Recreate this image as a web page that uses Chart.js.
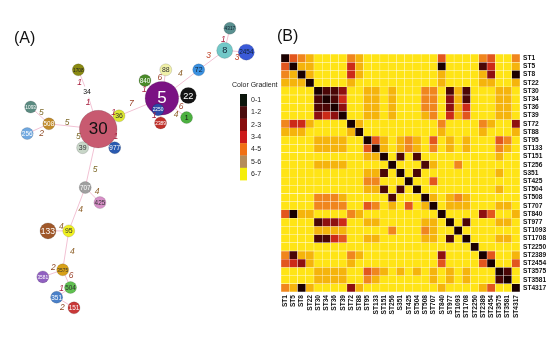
<!DOCTYPE html>
<html>
<head>
<meta charset="utf-8">
<script src="https://cdn.jsdelivr.net/npm/chart.js@4.4.1/dist/chart.umd.min.js"></script>
<style>
  html, body { margin: 0; padding: 0; background: #fff; width: 550px; height: 337px; overflow: hidden; font-family: "Liberation Sans", Arial, sans-serif; }
  #wrapA { position: absolute; left: 0; top: 0; width: 290px; height: 337px; }
  #wrapB { position: absolute; left: 270px; top: 0; width: 280px; height: 337px; }
  .tag { position: absolute; font-size: 16px; color: #111; line-height: 18px; }
</style>
</head>
<body>
<div id="wrapA"><canvas id="net"></canvas></div>
<div id="wrapB"><canvas id="heat"></canvas></div>
<div class="tag" style="left:14px;top:29px">(A)</div>
<div class="tag" style="left:277px;top:27px">(B)</div>
<script>
// ---- panel A : minimum spanning tree ----
const nodeNames = ['30', '5', '2250', '22', '1', '2389', '840', '88', '72', '8', '4317', '2454', '1708', '34', '36',
  '1093', '508', '256', '39', '977', '707', '425', '133', '95', '3575', '3581', '504', '351', '151']
// layout position of every node (reference layout units)
const nodeX = [91, 164.5, 160, 195, 193, 163, 145, 169, 207, 237, 243, 262, 68, 78, 115,
  13, 34, 9, 73, 110, 76, 93, 33, 57, 50, 27, 59, 43, 63]
const nodeY = [124, 89, 102, 86, 111, 117, 69, 57, 57, 35, 10, 37, 57, 82, 109,
  99, 118, 129, 145, 145, 190, 207, 239, 239, 283, 291, 303, 314, 326]
// isolates per ST
const nodeCount = [42, 30, 1, 2, 1, 1, 1, 1, 1, 2, 1, 2, 1, 1, 1,
  1, 1, 1, 1, 1, 1, 1, 2, 1, 1, 1, 1, 1, 1]

const edgeFrom = ['1708', '34', '30', '36', '5', '5', '5', '5', '5', '5', '72', '8', '8', '30', '30', '30', '508', '508',
  '30', '707', '707', '95', '95', '3575', '3575', '504', '351']
const edgeTo = ['34', '30', '36', '5', '840', '88', '72', '22', '1', '2389', '8', '4317', '2454', '39', '977', '508', '1093', '256',
  '707', '425', '95', '133', '3575', '3581', '504', '351', '151']
const edgeDist = [1, 1, 1, 7, 1, 6, 4, 6, 4, 1, 3, 1, 3, 5, 1, 5, 5, 2,
  5, 4, 4, 4, 4, 2, 6, 1, 2]

// styles
const nodeFill = ['#c85a70', '#7a1283', '#2c4aa8', '#141414', '#4cb040', '#c0302a', '#4a8a2a', '#f0f0a8', '#3a90e0', '#72c8c8', '#5a9090', '#3a5ad8', '#8a8a12', '#ffffff', '#dce632',
  '#5a8a80', '#c08a2a', '#70a8e0', '#c8d6c8', '#2a5ab0', '#a0a0a0', '#d890c8', '#a0582a', '#f0f020', '#d8a018', '#9060c0', '#60c050', '#4a80c8', '#c83838']
const nodeText = ['#111', '#fff', '#fff', '#fff', '#111', '#fff', '#fff', '#333', '#123', '#123', '#123', '#123', '#222', '#111', '#333',
  '#fff', '#fff', '#fff', '#333', '#fff', '#fff', '#333', '#fff', '#333', '#333', '#fff', '#333', '#fff', '#fff']
const labelDx = [-3, -4.5, 5, -9, -9, -4, 0, 6, 2, -7, -3, -4, 1.5, -12, 9.5, -6.5, 1.5, 3.5, 3.5, 4.5, 3.5, 3, 6.5, 0.5, 4.5, -2, -3]
const labelDy = [1.5, -8, -9.5, -3, 0, -6, -10, 9.5, 7, 5, -4, 0.5, 6, -1.5, -1.5, -4, -2.5, 4.5, 11, -3.5, 0.5, -4, 1, -6, -3, -3.5, 5]
const distColor = { 1: '#a8203e', 2: '#8e4a26', 3: '#c0442a', 4: '#8c5e26', 5: '#7e6a2a', 6: '#a04a34', 7: '#9a4028' }

const legendLabels = ['0-1', '1-2', '2-3', '3-4', '4-5', '5-6', '6-7']
const legendColors = ['#0c160c', '#4a0c0c', '#880c0c', '#cc1a1a', '#f07014', '#b48c5a', '#f5ee0a']

const radiusOf = (n) => 6 + 2 * Math.sqrt(n - 1)
const idx = (name) => nodeNames.indexOf(name)

Chart.defaults.font.family = '"Liberation Sans", Arial, sans-serif'

const netLabels = {
  id: 'netLabels',
  afterDatasetsDraw(chart) {
    const { ctx } = chart
    const x = chart.scales.x, y = chart.scales.y
    ctx.save()
    ctx.textAlign = 'center'
    ctx.textBaseline = 'middle'

    // distance on each edge
    edgeFrom.forEach((f, i) => {
      const a = idx(f), b = idx(edgeTo[i])
      const mx = (x.getPixelForValue(nodeX[a]) + x.getPixelForValue(nodeX[b])) / 2
      const my = (y.getPixelForValue(nodeY[a]) + y.getPixelForValue(nodeY[b])) / 2
      ctx.font = 'italic 8.5px "Liberation Sans", Arial'
      ctx.fillStyle = distColor[edgeDist[i]]
      ctx.fillText(String(edgeDist[i]), mx + labelDx[i], my + labelDy[i])
    })

    // ST name inside each node
    nodeNames.forEach((n, i) => {
      const r = radiusOf(nodeCount[i])
      const size = Math.min(r * 1.15, 17, (2 * r * 0.9) / (n.length * 0.56))
      ctx.font = size + 'px "Liberation Sans", Arial'
      ctx.fillStyle = nodeText[i]
      ctx.fillText(n, x.getPixelForValue(nodeX[i]), y.getPixelForValue(nodeY[i]) + 0.5)
    })

    // colour gradient key
    ctx.textAlign = 'left'
    ctx.fillStyle = '#222'
    ctx.font = '7px "Liberation Sans", Arial'
    ctx.fillText('Color Gradient', 232, 85)
    const h = 12.3
    legendColors.forEach((c, i) => {
      ctx.fillStyle = c
      ctx.fillRect(240, 94 + i * h, 7, h + 0.3)
      ctx.fillStyle = '#222'
      ctx.fillText(legendLabels[i], 251, 94 + i * h + h / 2)
    })
    ctx.restore()
  }
}

const edgeSets = edgeFrom.map((f, i) => {
  const a = idx(f), b = idx(edgeTo[i])
  return {
    data: [{ x: nodeX[a], y: nodeY[a] }, { x: nodeX[b], y: nodeY[b] }],
    showLine: true,
    borderColor: '#f2c2d4',
    borderWidth: 1,
    pointRadius: 0,
    order: 1,
    clip: false
  }
})

const netChart = new Chart(document.getElementById('net'), {
  type: 'scatter',
  data: {
    datasets: [{
      data: nodeNames.map((n, i) => ({ x: nodeX[i], y: nodeY[i] })),
      pointRadius: nodeCount.map(radiusOf),
      pointHoverRadius: nodeCount.map(radiusOf),
      pointBackgroundColor: nodeFill,
      pointBorderColor: nodeNames.map(n => n === '34' ? 'rgba(0,0,0,0)' : 'rgba(0,0,0,0.22)'),
      pointBorderWidth: 0.6,
      order: 0,
      clip: false
    }].concat(edgeSets)
  },
  plugins: [netLabels],
  options: {
    responsive: true,
    maintainAspectRatio: false,
    animation: false,
    layout: { padding: 0 },
    plugins: { legend: { display: false }, tooltip: { enabled: false } },
    scales: {
      x: { type: 'linear', display: false, min: 0, max: 290 },
      y: { type: 'linear', display: false, min: 0, max: 337, reverse: true }
    }
  }
})

// ---- panel B : pairwise distance heatmap ----
const heatNames = ['ST1', 'ST5', 'ST8', 'ST22', 'ST30', 'ST34', 'ST36', 'ST39', 'ST72', 'ST88', 'ST95', 'ST133', 'ST151', 'ST256',
  'S351', 'ST425', 'ST504', 'ST508', 'ST707', 'ST840', 'ST977', 'ST1093', 'ST1708', 'ST2250', 'ST2389', 'ST2454',
  'ST3575', 'ST3581', 'ST4317']
// [row, col, binned distance] for the pairs below the top bin; every other pair is bin 7
const heatPairs = [
  [0, 1, 4], [0, 2, 5], [0, 3, 6], [0, 8, 5], [0, 9, 6], [0, 19, 4], [0, 24, 5], [0, 25, 4], [0, 28, 5],
  [1, 2, 6], [1, 3, 6], [1, 8, 3], [1, 9, 6], [1, 19, 0], [1, 24, 1], [1, 25, 3], [1, 28, 6],
  [2, 3, 6], [2, 8, 3], [2, 9, 6], [2, 19, 6], [2, 24, 6], [2, 25, 2], [2, 28, 0],
  [3, 8, 6], [3, 19, 6], [3, 24, 6], [3, 25, 6], [3, 28, 6],
  [4, 5, 1], [4, 6, 1], [4, 7, 2], [4, 10, 6], [4, 11, 6], [4, 13, 6], [4, 17, 5], [4, 18, 5], [4, 20, 1], [4, 21, 6], [4, 22, 1], [4, 26, 6], [4, 27, 6],
  [5, 6, 1], [5, 7, 3], [5, 10, 6], [5, 11, 6], [5, 13, 6], [5, 17, 5], [5, 18, 5], [5, 20, 2], [5, 21, 6], [5, 22, 1], [5, 26, 6], [5, 27, 6],
  [6, 7, 2], [6, 10, 6], [6, 11, 6], [6, 13, 6], [6, 17, 5], [6, 18, 5], [6, 20, 2], [6, 21, 6], [6, 22, 3], [6, 26, 6], [6, 27, 6],
  [7, 10, 6], [7, 11, 6], [7, 13, 6], [7, 17, 6], [7, 18, 5], [7, 20, 3], [7, 21, 6], [7, 22, 4], [7, 26, 6], [7, 27, 6],
  [8, 9, 6], [8, 19, 5], [8, 24, 5], [8, 25, 6], [8, 28, 2],
  [9, 19, 6], [9, 24, 6], [9, 28, 6],
  [10, 11, 4], [10, 12, 6], [10, 14, 6], [10, 15, 5], [10, 16, 6], [10, 18, 4], [10, 20, 6], [10, 22, 6], [10, 26, 4], [10, 27, 5],
  [11, 12, 6], [11, 14, 6], [11, 15, 5], [11, 16, 6], [11, 18, 5], [11, 20, 6], [11, 22, 6], [11, 26, 5], [11, 27, 6],
  [12, 14, 1], [12, 16, 1], [12, 26, 6],
  [13, 17, 1], [13, 18, 6], [13, 21, 5],
  [14, 16, 1], [14, 26, 6],
  [15, 18, 4],
  [16, 26, 6],
  [17, 18, 6], [17, 20, 6], [17, 21, 5], [17, 22, 6],
  [18, 20, 6], [18, 21, 6], [18, 22, 6], [18, 26, 6], [18, 27, 6],
  [19, 24, 2], [19, 25, 4], [19, 28, 6],
  [20, 22, 1], [20, 26, 6], [20, 27, 6],
  [22, 26, 6], [22, 27, 6],
  [24, 25, 4], [24, 28, 6],
  [25, 28, 4],
  [26, 27, 1]
]
const farBin = 7

const heatColors = ['#1a0000', '#4b0606', '#8e1010', '#cc2a18', '#e2561e', '#f0861e', '#f5b40c', '#ffe416']

const M = heatNames.map((_, r) => heatNames.map((_, c) => (r === c ? 0 : farBin)))
heatPairs.forEach(([a, b, v]) => {
  M[a][b] = v
  M[b][a] = v
})

const tickFont = { family: '"Liberation Sans", Arial', size: 6.6, weight: 'bold' }

const heatChart = new Chart(document.getElementById('heat'), {
  type: 'bar',
  data: {
    labels: heatNames,
    datasets: heatNames.map((name, r) => ({
      label: name,
      data: heatNames.map(() => 1),
      backgroundColor: M[r].map(v => heatColors[v]),
      borderColor: 'rgba(255,255,255,0.09)',
      borderWidth: 0.5,
      borderSkipped: false,
      barPercentage: 1,
      categoryPercentage: 1
    }))
  },
  options: {
    responsive: true,
    maintainAspectRatio: false,
    animation: false,
    layout: { padding: { left: 11, top: 54, right: 0, bottom: 0 } },
    plugins: { legend: { display: false }, tooltip: { enabled: false } },
    scales: {
      x: {
        stacked: true,
        grid: { display: false, drawTicks: false },
        border: { display: false },
        ticks: { autoSkip: false, minRotation: 90, maxRotation: 90, padding: 3, color: '#111', font: tickFont },
        afterFit: (s) => { s.height = 45 }
      },
      y: {
        stacked: true,
        position: 'right',
        reverse: true,
        min: 0,
        max: heatNames.length,
        grid: { display: false, drawTicks: false },
        border: { display: false },
        afterBuildTicks: (s) => { s.ticks = heatNames.map((n, i) => ({ value: i + 0.5 })) },
        ticks: { autoSkip: false, padding: 3, color: '#111', font: tickFont, callback: (v) => heatNames[Math.floor(v)] },
        afterFit: (s) => { s.width = 30 }
      }
    }
  }
})
</script>
</body>
</html>
